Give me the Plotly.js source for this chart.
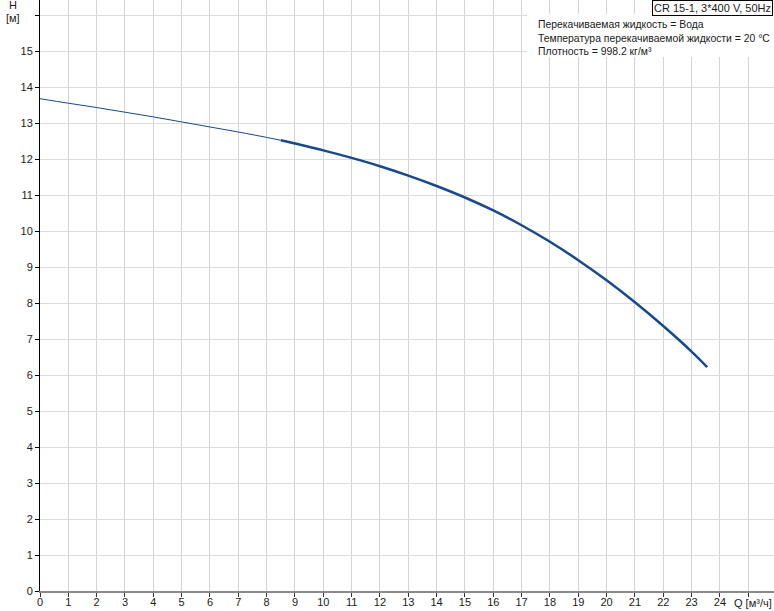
<!DOCTYPE html>
<html>
<head>
<meta charset="utf-8">
<script src="https://cdn.plot.ly/plotly-3.0.1.min.js"></script>
<style>html,body{margin:0;padding:0;background:#fff;}#chart{width:774px;height:611px;}</style>
</head>
<body>
<div id="chart"></div>
<script>
// Data
const qThin = [0, 1, 2, 3, 4, 5, 6, 7, 8, 8.5];
const hThin = [13.675, 13.55, 13.43, 13.30, 13.17, 13.03, 12.89, 12.75, 12.60, 12.52];
const qThick = [8.5, 9, 10, 11, 12, 13, 14, 15, 16, 17, 18, 19, 20, 21, 22, 23, 23.55];
const hThick = [12.52, 12.43, 12.24, 12.03, 11.80, 11.54, 11.25, 10.93, 10.57, 10.16, 9.70, 9.19, 8.63, 8.02, 7.36, 6.65, 6.22];

const xTickVals = [0,1,2,3,4,5,6,7,8,9,10,11,12,13,14,15,16,17,18,19,20,21,22,23,24,25];
const xTickText = ['0','1','2','3','4','5','6','7','8','9','10','11','12','13','14','15','16','17','18','19','20','21','22','23','24',''];
const yTickVals = [0,1,2,3,4,5,6,7,8,9,10,11,12,13,14,15,16];
const yTickText = ['0','1','2','3','4','5','6','7','8','9','10','11','12','13','14','15',''];

const titleText = 'CR 15-1, 3*400 V, 50Hz';
const infoLines = ['Перекачиваемая жидкость = Вода', 'Температура перекачиваемой жидкости = 20 °C', 'Плотность = 998.2 кг/м³'];
const yLabel1 = 'H', yLabel2 = '[м]', xLabel = 'Q [м³/ч]';

// layout geometry
const W = 774, H = 611, ML = 40, MR = 0, MT = 0, MB = 20;
const PW = W - ML - MR, PH = H - MT - MB;
const px2x = p => (p - ML) / PW;
const py2y = p => 1 - (p - MT) / PH;
const FONT = 'Liberation Sans, Arial, sans-serif';
const TXT = '#1a1a1a';
const lineColor = '#164a8c';

const traces = [
  {x: qThin, y: hThin, mode: 'lines', line: {color: lineColor, width: 1, shape: 'spline'}, hoverinfo: 'skip'},
  {x: qThick, y: hThick, mode: 'lines', line: {color: lineColor, width: 2.5, shape: 'spline'}, hoverinfo: 'skip'}
];

const annotations = [
  {xref: 'paper', yref: 'paper', x: px2x(773), y: py2y(0), xanchor: 'right', yanchor: 'top', text: titleText, showarrow: false,
   font: {family: FONT, size: 11, color: TXT}, bgcolor: '#fff', bordercolor: '#000', borderwidth: 1, borderpad: 1},
  {xref: 'paper', yref: 'paper', x: px2x(13), y: py2y(5), xanchor: 'center', yanchor: 'middle', text: yLabel1, showarrow: false, font: {family: FONT, size: 11, color: TXT}},
  {xref: 'paper', yref: 'paper', x: px2x(13), y: py2y(18), xanchor: 'center', yanchor: 'middle', text: yLabel2, showarrow: false, font: {family: FONT, size: 11, color: TXT}},
  {xref: 'paper', yref: 'paper', x: px2x(753), y: py2y(603), xanchor: 'center', yanchor: 'middle', text: xLabel, showarrow: false, font: {family: FONT, size: 11, color: TXT}}
];
infoLines.forEach((t, i) => {
  annotations.push({xref: 'paper', yref: 'paper', x: px2x(536), y: py2y(25 + 13 * i), xanchor: 'left', yanchor: 'middle', text: t, showarrow: false,
    font: {family: FONT, size: 10.4, color: TXT}});
});

const layout = {
  width: W, height: H,
  margin: {l: ML, r: MR, t: MT, b: MB, pad: 0},
  paper_bgcolor: '#fff', plot_bgcolor: '#fff',
  showlegend: false,
  xaxis: {
    range: [0, PW / 28.33], tickmode: 'array', tickvals: xTickVals, ticktext: xTickText,
    showgrid: true, gridcolor: '#d4d4d4', gridwidth: 1, zeroline: false,
    showline: true, linecolor: '#8a8a8a', linewidth: 2,
    ticks: 'outside', ticklen: 4, tickcolor: '#333', tickwidth: 1, ticklabelstandoff: -4,
    tickfont: {family: FONT, size: 11, color: TXT}, fixedrange: true
  },
  yaxis: {
    range: [0, PH / 36.0], tickmode: 'array', tickvals: yTickVals, ticktext: yTickText,
    showgrid: true, gridcolor: '#dcdcdc', gridwidth: 1, zeroline: false,
    showline: true, linecolor: '#000', linewidth: 1,
    ticks: 'outside', ticklen: 4, tickcolor: '#000', tickwidth: 1,
    tickfont: {family: FONT, size: 11, color: TXT}, fixedrange: true
  },
  shapes: [
    {type: 'rect', xref: 'paper', yref: 'paper', x0: px2x(527), x1: 1, y0: py2y(57), y1: py2y(14), fillcolor: '#fff', line: {width: 0}, layer: 'above'}
  ],
  annotations: annotations
};

Plotly.newPlot('chart', traces, layout, {staticPlot: true, displayModeBar: false});
</script>
</body>
</html>
